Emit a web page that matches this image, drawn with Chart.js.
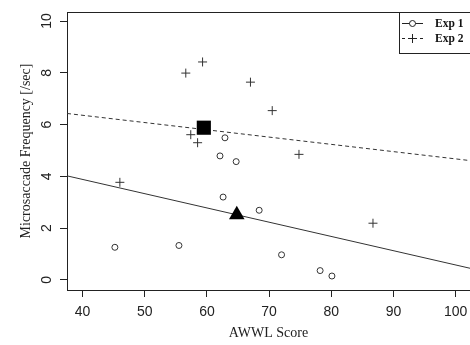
<!DOCTYPE html>
<html>
<head>
<meta charset="utf-8">
<script src="https://cdn.jsdelivr.net/npm/chart.js@4"></script>
<style>
  body { margin: 0; background: #fff; overflow: hidden; }
  canvas { display: block; }
</style>
</head>
<body>
<canvas id="awwlChart" width="470" height="345"></canvas>
<script>
// Exp 1 (circles)
var exp1X = [45.2, 55.5, 62.1, 64.7, 62.6, 68.4, 72.0, 78.2, 80.1, 62.9];
var exp1Y = [1.26, 1.33, 4.79, 4.57, 3.20, 2.69, 0.97, 0.36, 0.15, 5.49];
// Exp 2 (crosses)
var exp2X = [46.0, 74.8, 86.7, 56.6, 59.3, 67.0, 57.4, 58.5, 70.5];
var exp2Y = [3.77, 4.85, 2.19, 7.99, 8.42, 7.64, 5.61, 5.30, 6.54];
// group means
var mean1 = { x: 64.8, y: 2.52 };
var mean2 = { x: 59.5, y: 5.88 };
// regression lines, read at the plot edges
var fitX = [37.5, 102.3];
var fit1Y = [4.02, 0.45];
var fit2Y = [6.43, 4.61];

var xTicks = [40, 50, 60, 70, 80, 90, 100];
var yTicks = [0, 2, 4, 6, 8, 10];
var legendLabels = ['Exp 1', 'Exp 2'];

var ink = '#222';

function toPoints(xs, ys) {
  return xs.map(function(x, i) { return { x: x, y: ys[i] }; });
}

var boxAndLegend = {
  id: 'boxAndLegend',
  afterDraw: function(chart) {
    var ctx = chart.ctx;
    var a = chart.chartArea;
    ctx.save();
    ctx.strokeStyle = ink;
    ctx.lineWidth = 1;
    // top of the box
    ctx.beginPath();
    ctx.moveTo(a.left, a.top + 0.5);
    ctx.lineTo(a.right, a.top + 0.5);
    ctx.stroke();

    // tick labels, R style (y labels turned)
    var xs = chart.scales.x, ys = chart.scales.y;
    ctx.fillStyle = ink;
    ctx.font = '14px "Liberation Sans", Arial, sans-serif';
    ctx.textAlign = 'center';
    ctx.textBaseline = 'middle';
    xTicks.forEach(function(v) {
      ctx.fillText(String(v), xs.getPixelForValue(v), 312);
    });
    yTicks.forEach(function(v) {
      ctx.save();
      ctx.translate(47, ys.getPixelForValue(v));
      ctx.rotate(-Math.PI / 2);
      ctx.fillText(String(v), 0, 0);
      ctx.restore();
    });

    // legend
    var lx = 399.5, ly = a.top + 0.5;
    ctx.fillStyle = '#fff';
    ctx.fillRect(lx, ly, 100, 41);
    ctx.strokeRect(lx, ly, 100, 41);
    var rows = [ly + 11, ly + 26];
    ctx.beginPath();
    ctx.moveTo(402, rows[0]);
    ctx.lineTo(423, rows[0]);
    ctx.stroke();
    ctx.beginPath();
    ctx.arc(412.5, rows[0], 3, 0, Math.PI * 2);
    ctx.fillStyle = '#fff';
    ctx.fill();
    ctx.stroke();
    ctx.setLineDash([3, 3]);
    ctx.beginPath();
    ctx.moveTo(402, rows[1]);
    ctx.lineTo(423, rows[1]);
    ctx.stroke();
    ctx.setLineDash([]);
    ctx.beginPath();
    ctx.moveTo(408, rows[1]);
    ctx.lineTo(417, rows[1]);
    ctx.moveTo(412.5, rows[1] - 4.5);
    ctx.lineTo(412.5, rows[1] + 4.5);
    ctx.stroke();
    ctx.fillStyle = '#111';
    ctx.font = 'bold 11.5px "Liberation Serif", "Times New Roman", serif';
    ctx.textAlign = 'left';
    legendLabels.forEach(function(t, i) {
      ctx.fillText(t, 435, rows[i] + 0.5);
    });
    ctx.restore();
  }
};

var ctx = document.getElementById('awwlChart').getContext('2d');
var awwlChart = new Chart(ctx, {
  type: 'scatter',
  data: {
    datasets: [
      {
        label: 'Mean 1',
        data: [mean1],
        pointStyle: 'triangle',
        pointRadius: 9,
        backgroundColor: '#000',
        borderColor: '#000',
        borderWidth: 0
      },
      {
        label: 'Mean 2',
        data: [mean2],
        pointStyle: 'rect',
        pointRadius: 10,
        backgroundColor: '#000',
        borderColor: '#000',
        borderWidth: 0
      },
      {
        label: legendLabels[0],
        data: toPoints(exp1X, exp1Y),
        pointStyle: 'circle',
        pointRadius: 3,
        backgroundColor: 'rgba(255,255,255,0)',
        borderColor: '#333',
        borderWidth: 1
      },
      {
        label: legendLabels[1],
        data: toPoints(exp2X, exp2Y),
        pointStyle: 'cross',
        pointRadius: 4.5,
        borderColor: '#333',
        borderWidth: 1
      },
      {
        type: 'line',
        label: 'Fit 1',
        data: toPoints(fitX, fit1Y),
        borderColor: '#333',
        borderWidth: 1,
        pointRadius: 0,
        fill: false
      },
      {
        type: 'line',
        label: 'Fit 2',
        data: toPoints(fitX, fit2Y),
        borderColor: '#333',
        borderWidth: 1,
        borderDash: [4, 3],
        pointRadius: 0,
        fill: false
      }
    ]
  },
  options: {
    responsive: false,
    animation: false,
    layout: { autoPadding: false, padding: { top: 12, right: 0, left: 0, bottom: 0 } },
    plugins: {
      legend: { display: false },
      tooltip: { enabled: false }
    },
    scales: {
      x: {
        type: 'linear',
        min: 37.5,
        max: 102.3,
        afterBuildTicks: function(scale) {
          scale.ticks = xTicks.map(function(v) { return { value: v }; });
        },
        afterFit: function(scale) { scale.height = 55; },
        grid: { drawOnChartArea: false, drawTicks: true, tickLength: 7, color: ink },
        border: { display: true, color: ink, width: 1 },
        ticks: { display: false },
        title: {
          display: true,
          text: 'AWWL Score',
          color: ink,
          padding: { top: 0, bottom: 3 },
          font: { family: '"Liberation Serif", "Times New Roman", serif', size: 14 }
        }
      },
      y: {
        type: 'linear',
        min: -0.39,
        max: 10.35,
        afterBuildTicks: function(scale) {
          scale.ticks = yTicks.map(function(v) { return { value: v }; });
        },
        afterFit: function(scale) { scale.width = 67; },
        grid: { drawOnChartArea: false, drawTicks: true, tickLength: 7, color: ink },
        border: { display: true, color: ink, width: 1 },
        ticks: { display: false },
        title: {
          display: true,
          text: 'Microsaccade Frequency [/sec]',
          color: ink,
          padding: { top: 18, bottom: 0 },
          font: { family: '"Liberation Serif", "Times New Roman", serif', size: 14 }
        }
      }
    }
  },
  plugins: [boxAndLegend]
});
</script>
</body>
</html>
